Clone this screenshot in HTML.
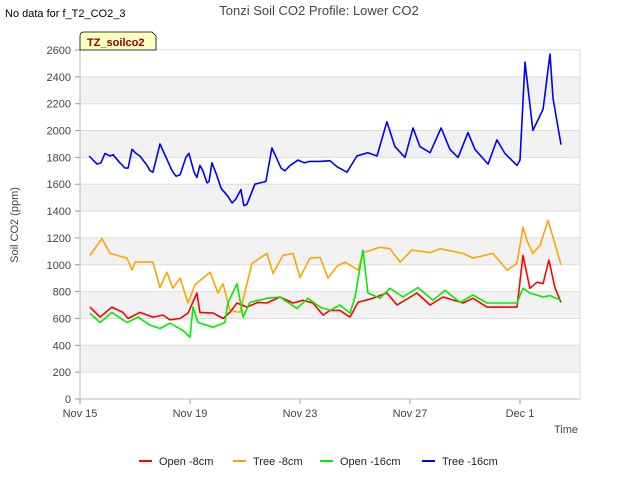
<!DOCTYPE html>
<html><head><meta charset="utf-8"><style>
body{margin:0;background:#fff;font-family:"Liberation Sans",sans-serif}
</style></head><body>
<svg id="c" width="640" height="480" xmlns="http://www.w3.org/2000/svg" font-family="Liberation Sans, sans-serif">
<text x="5" y="17" font-size="11" fill="#000">No data for f_T2_CO2_3</text>
<text x="319" y="15" font-size="13" fill="#444" text-anchor="middle">Tonzi Soil CO2 Profile: Lower CO2</text>
<g id="plot"></g>
<g>
<path d="M80,50 L80,36 Q80,32 84,32 L152,32 L156,36 L156,50 Z" fill="#ffffc0" stroke="#000" stroke-width="0.8"/>
<text x="87" y="46" font-size="11" font-weight="bold" fill="#8b0000">TZ_soilco2</text></g>
<text x="18" y="225" font-size="11" fill="#444" text-anchor="middle" transform="rotate(-90 18 225)">Soil CO2 (ppm)</text>
<text x="578" y="433" font-size="11" fill="#444" text-anchor="end">Time</text>
<g id="legend"></g>
</svg>
<script>
const xTickLabels=["Nov 15","Nov 19","Nov 23","Nov 27","Dec 1"];
const xTickDays=[0,4,8,12,16];
const yTicks=[0,200,400,600,800,1000,1200,1400,1600,1800,2000,2200,2400,2600];
const seriesNames=["Open -8cm","Tree -8cm","Open -16cm","Tree -16cm"];
const seriesColors=["#ff0000","#ffa500","#00ee00","#0000ff"];
const open8Days=[.36,.73,1.16,1.56,1.75,2.18,2.65,3.02,3.27,3.64,3.93,4.25,4.36,4.84,5.2,5.45,5.71,6.07,6.47,6.8,7.27,7.75,8.11,8.47,8.84,9.09,9.45,9.82,10.11,10.65,11.16,11.53,12.25,12.73,13.2,13.93,14.29,14.8,15.89,16.11,16.36,16.62,16.84,17.05,17.27,17.49];
const open8Vals=[685,610,685,645,600,645,610,625,590,600,640,790,645,640,600,645,715,685,720,715,760,715,735,715,625,660,660,610,720,750,790,700,790,700,760,715,750,685,685,1070,825,870,860,1035,830,720];
const tree8Days=[.36,.8,1.09,1.71,1.89,2,2.65,2.91,3.16,3.38,3.64,3.93,4.18,4.73,5.02,5.2,5.45,5.82,6.25,6.8,7.02,7.38,7.75,8,8.36,8.73,9.02,9.35,9.64,10.11,10.29,10.91,11.27,11.64,12.07,12.73,13.09,13.93,14.29,15.02,15.53,15.89,16.11,16.25,16.47,16.73,17.02,17.2,17.49];
const tree8Vals=[1070,1195,1085,1050,960,1020,1020,830,945,825,900,715,850,945,790,860,660,645,1010,1085,935,1070,1085,905,1050,1055,900,990,1020,960,1090,1130,1120,1020,1110,1090,1120,1085,1050,1085,960,1010,1280,1180,1085,1145,1330,1205,1000];
const open16Days=[.36,.73,1.16,1.71,2.11,2.55,2.91,3.27,3.75,4.0,4.11,4.29,4.84,5.27,5.38,5.71,5.93,6.18,6.8,7.27,7.89,8.29,8.73,9.09,9.45,9.82,10.0,10.29,10.47,10.91,11.27,11.75,12.29,12.84,13.27,13.82,14.29,14.8,15.89,16.11,16.36,16.84,17.09,17.49];
const open16Vals=[640,570,645,570,610,550,525,565,510,460,685,570,535,570,715,860,610,720,750,760,675,750,685,660,700,640,760,1110,790,750,825,760,830,735,810,720,775,715,715,825,790,760,770,735];
const tree16Days=[.33,.62,.76,.91,1.09,1.2,1.45,1.64,1.75,1.89,2.04,2.18,2.44,2.55,2.65,2.91,3.13,3.35,3.49,3.64,3.85,3.96,4.15,4.25,4.36,4.47,4.62,4.69,4.8,4.95,5.13,5.38,5.53,5.67,5.85,5.96,6.07,6.36,6.55,6.76,6.98,7.09,7.31,7.45,7.64,7.93,8.15,8.36,8.73,9.09,9.35,9.71,10.07,10.47,10.8,11.16,11.45,11.82,12.11,12.36,12.73,13.13,13.45,13.75,14.11,14.36,14.84,15.16,15.45,15.89,16,16.18,16.47,16.84,17.09,17.2,17.49];
const tree16Vals=[1810,1750,1760,1830,1810,1820,1760,1720,1720,1860,1830,1810,1740,1700,1690,1900,1800,1700,1660,1670,1800,1830,1690,1650,1740,1700,1610,1620,1760,1680,1570,1510,1460,1490,1560,1440,1450,1600,1610,1620,1870,1820,1720,1700,1740,1780,1760,1770,1770,1775,1730,1690,1810,1835,1810,2065,1880,1800,2020,1880,1835,2020,1860,1800,1985,1860,1750,1930,1830,1740,1780,2510,2000,2160,2570,2240,1895];
const NS="http://www.w3.org/2000/svg";
const X0=80,X1=580,Y0=399,Y1=50,DAYS=500/27.5,YMAX=2600;
const sx=d=>X0+d*(X1-X0)/DAYS, sy=v=>Y0-v*(Y0-Y1)/YMAX;
const plot=document.getElementById('plot');
function mk(tag,attrs,parent){const e=document.createElementNS(NS,tag);for(const k in attrs)e.setAttribute(k,attrs[k]);parent.appendChild(e);return e;}
mk('rect',{x:X0,y:Y1,width:X1-X0,height:Y0-Y1,fill:'#fff'},plot);
for(let i=0;i<yTicks.length-1;i++){if(i%2===1){const r=mk('rect',{x:X0,y:sy(yTicks[i+1]),width:X1-X0,height:sy(yTicks[i])-sy(yTicks[i+1]),fill:'#f2f2f2'},plot);

}}
yTicks.forEach(v=>{const y=sy(v);
const g=mk('line',{x1:X0,x2:X1,y1:y,y2:y,stroke:'#ddd','stroke-width':1},plot);


mk('line',{x1:X0-5,x2:X0,y1:y,y2:y,stroke:'#999'},plot);
const t=mk('text',{x:X0-9,y:y+4,'font-size':11,fill:'#444','text-anchor':'end'},plot);t.textContent=v;

});
xTickDays.forEach((d,i)=>{const x=sx(d);
mk('line',{x1:x,x2:x,y1:Y0,y2:Y0+5,stroke:'#999'},plot);
const t=mk('text',{x:x,y:Y0+18,'font-size':11,fill:'#444','text-anchor':'middle'},plot);t.textContent=xTickLabels[i];

});
mk('line',{x1:X0,x2:X0,y1:Y1,y2:Y0,stroke:'#bbb'},plot);
mk('line',{x1:X0,x2:X1,y1:Y0,y2:Y0,stroke:'#bbb'},plot);
mk('line',{x1:X1,x2:X1,y1:Y1,y2:Y0,stroke:'#ddd'},plot);
const days=[open8Days,tree8Days,open16Days,tree16Days],vals=[open8Vals,tree8Vals,open16Vals,tree16Vals];
const keys=['open-8cm','tree-8cm','open-16cm','tree-16cm'];
[1,0,2,3].forEach(i=>{const pts=days[i].map((d,j)=>sx(d).toFixed(1)+','+sy(vals[i][j]).toFixed(1)).join(' ');
const p=mk('polyline',{points:pts,fill:'none',stroke:seriesColors[i],'stroke-width':1.6,'stroke-linejoin':'round'},plot);

});
const leg=document.getElementById('legend');const lx=[139,233,320,422];
seriesNames.forEach((n,i)=>{const g=mk('g',{},leg);


mk('line',{x1:lx[i],x2:lx[i]+13,y1:461,y2:461,stroke:seriesColors[i],'stroke-width':2},g);
const t=mk('text',{x:lx[i]+20,y:465,'font-size':11,fill:'#222'},g);t.textContent=n;});
</script>
</body></html>
